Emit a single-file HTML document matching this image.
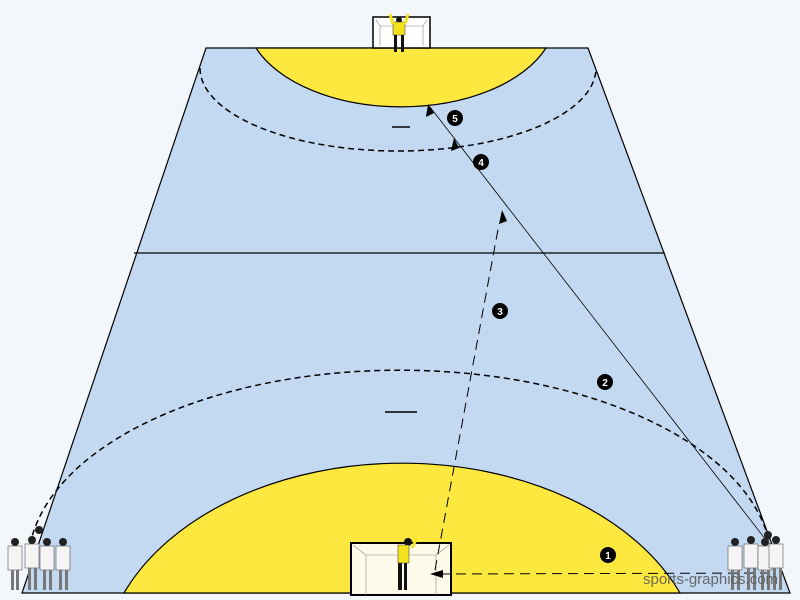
<!DOCTYPE html>
<html><head><style>body{margin:0;background:#f3f6fb}svg{display:block}</style></head><body>
<svg width="800" height="600" viewBox="0 0 800 600" xmlns="http://www.w3.org/2000/svg" font-family="Liberation Sans, sans-serif">
<rect width="800" height="600" fill="#f3f6fb"/>
<polygon points="206,48 588,48 790,593 22,593" fill="#c3d8f1" stroke="#000" stroke-width="1.2"/>
<line x1="134" y1="253" x2="665" y2="253" stroke="#000" stroke-width="1.2"/>
<path d="M256,48 A155 91 0 0 0 546,48 Z" fill="#fde83f" stroke="#000" stroke-width="1.2"/>
<path d="M124,593 A300 208 0 0 1 680,593 Z" fill="#fde83f" stroke="#000" stroke-width="1.2"/>
<path d="M200,68 A198 83 0 0 0 596,68" fill="none" stroke="#000" stroke-width="1.5" stroke-dasharray="6,4"/>
<path d="M30,545 A372 195 0 0 1 770,545" fill="none" stroke="#000" stroke-width="1.5" stroke-dasharray="6,4"/>
<line x1="392" y1="127" x2="410" y2="127" stroke="#000" stroke-width="1.5"/>
<line x1="385" y1="412" x2="417" y2="412" stroke="#000" stroke-width="1.5"/>
<!-- goals -->
<rect x="373" y="17" width="57" height="31" fill="#fff" stroke="#000" stroke-width="1.5"/>
<path d="M376,20 L380,26 L380,46 M427,20 L423,26 L423,46 M380,26 L423,26" fill="none" stroke="#888" stroke-width="0.6"/>
<rect x="351" y="543" width="100" height="52" fill="#fffbeb" stroke="#000" stroke-width="2"/>
<path d="M353,545 L366,555 L366,595 M449,545 L436,555 L436,595 M366,555 L436,555" fill="none" stroke="#888" stroke-width="0.6"/>
<!-- goalkeepers -->
<g fill="#111"><rect x="394" y="34" width="3" height="18"/><rect x="401" y="34" width="3" height="18"/><circle cx="399" cy="20" r="3"/></g>
<rect x="393" y="22" width="12" height="13" fill="#f2e21c" stroke="#333" stroke-width="0.5"/>
<path d="M393,24 L390,14 M405,24 L408,14" stroke="#f2e21c" stroke-width="3"/>
<g fill="#111"><rect x="398" y="562" width="4" height="28"/><rect x="404" y="562" width="3" height="28"/><circle cx="408" cy="542" r="4"/></g>
<rect x="398" y="545" width="11" height="18" fill="#f2e21c" stroke="#333" stroke-width="0.5"/>
<path d="M412,548 L417,538" stroke="#f2e21c" stroke-width="3"/>
<!-- paths -->
<line x1="766" y1="540" x2="430" y2="107" stroke="#000" stroke-width="0.8"/>
<line x1="770" y1="573" x2="440" y2="574" stroke="#000" stroke-width="1" stroke-dasharray="10,6"/>
<line x1="435" y1="570" x2="499" y2="224" stroke="#000" stroke-width="1" stroke-dasharray="10,6"/>
<g fill="#000">
<polygon points="430,574 443,570 443,578"/>
<polygon points="502,210 499,224 507,221"/>
<polygon points="454,138 451,151 459,148"/>
<polygon points="428,104 426,117 434,113"/>
</g>
<g fill="#000"><circle cx="608" cy="555" r="8"/><circle cx="605" cy="382" r="8"/><circle cx="500" cy="311" r="8"/><circle cx="481" cy="162" r="8"/><circle cx="455" cy="118" r="8"/></g>
<g fill="#fff" font-size="10" font-weight="bold" text-anchor="middle"><text x="608" y="559">1</text><text x="605" y="386">2</text><text x="500" y="315">3</text><text x="481" y="166">4</text><text x="455" y="122">5</text></g>
<!-- players -->
<g fill="#f4f4f4" stroke="#555" stroke-width="0.6">
<rect x="8" y="546" width="14" height="24"/><rect x="25" y="544" width="14" height="24"/><rect x="40" y="546" width="14" height="24"/><rect x="56" y="546" width="14" height="24"/>
<rect x="728" y="546" width="14" height="24"/><rect x="744" y="544" width="14" height="24"/><rect x="758" y="546" width="14" height="24"/><rect x="769" y="544" width="14" height="24"/>
</g>
<g fill="#222">
<circle cx="15" cy="542" r="4"/><circle cx="32" cy="540" r="4"/><circle cx="47" cy="542" r="4"/><circle cx="63" cy="542" r="4"/><circle cx="39" cy="530" r="4"/>
<circle cx="735" cy="542" r="4"/><circle cx="751" cy="540" r="4"/><circle cx="765" cy="542" r="4"/><circle cx="776" cy="540" r="4"/><circle cx="768" cy="535" r="4"/>
</g>
<g fill="#777">
<rect x="11" y="570" width="3" height="20"/><rect x="16" y="570" width="3" height="20"/><rect x="28" y="568" width="3" height="22"/><rect x="34" y="568" width="3" height="22"/><rect x="43" y="570" width="3" height="20"/><rect x="49" y="570" width="3" height="20"/><rect x="59" y="570" width="3" height="20"/><rect x="65" y="570" width="3" height="20"/>
<rect x="731" y="570" width="3" height="20"/><rect x="737" y="570" width="3" height="20"/><rect x="747" y="568" width="3" height="22"/><rect x="753" y="568" width="3" height="22"/><rect x="761" y="570" width="3" height="20"/><rect x="767" y="570" width="3" height="20"/><rect x="773" y="568" width="3" height="22"/><rect x="779" y="568" width="3" height="22"/>
</g>
<text x="643" y="584" font-size="15" fill="#555" opacity="0.85">sports-graphics.com</text>
</svg>
</body></html>
